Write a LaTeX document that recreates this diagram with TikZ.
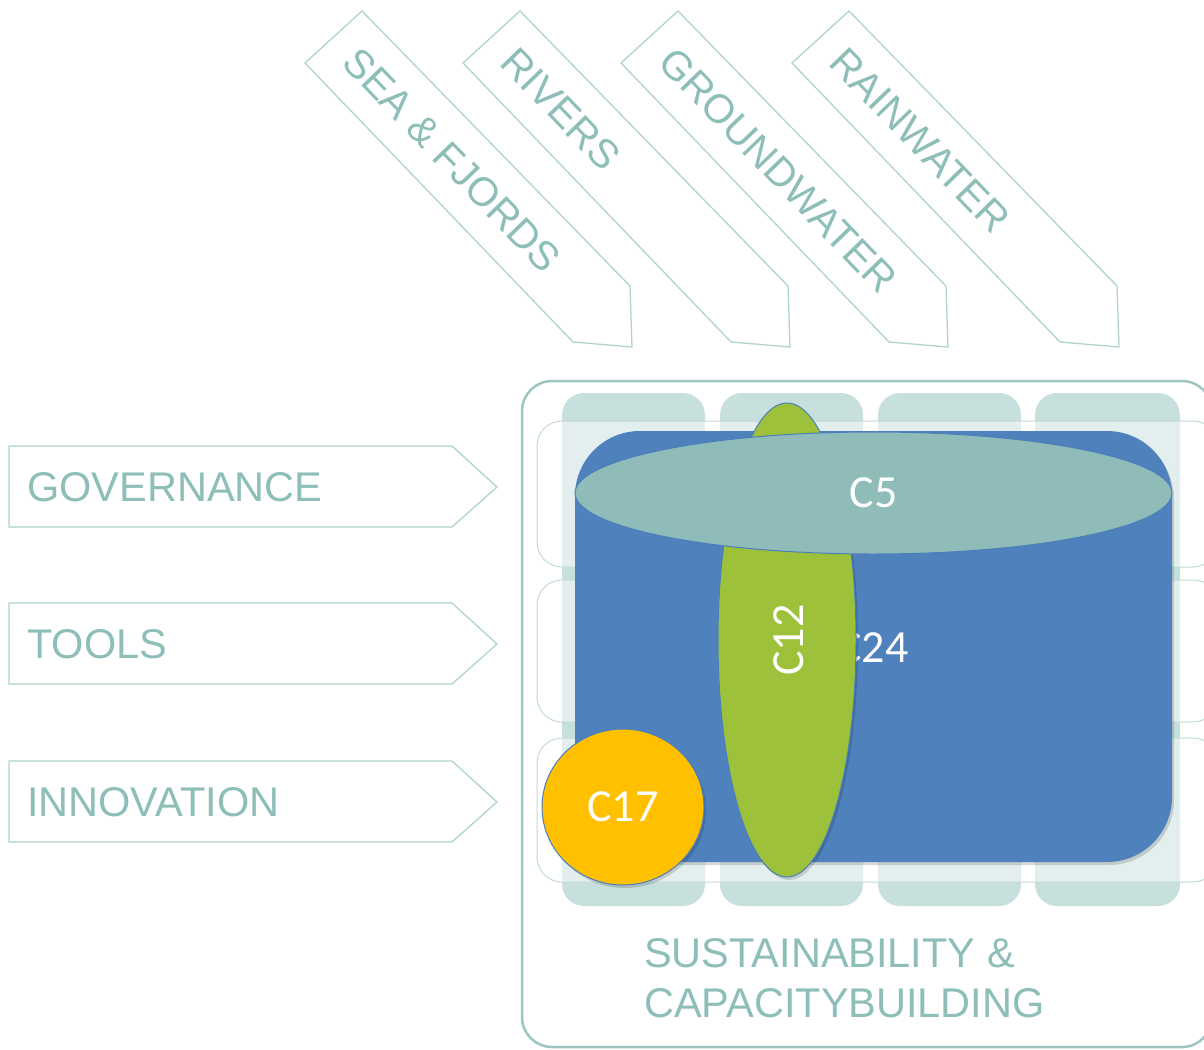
\documentclass[tikz,border=0pt]{standalone}
\usepackage{fontspec}
\setmainfont{Liberation Sans}
\newfontfamily\calib{Carlito}
\usetikzlibrary{shapes.geometric,shadows}
\definecolor{tealtxt}{HTML}{8DBEB8}
\definecolor{tealline}{HTML}{AFD3CF}
\definecolor{boxline}{HTML}{9DC6C1}
\definecolor{colfill}{HTML}{C7E0DE}
\definecolor{rowline}{HTML}{C2DBD8}
\definecolor{cblue}{HTML}{4F81BD}
\definecolor{cgreen}{HTML}{9DC13A}
\definecolor{cteal}{HTML}{8FBCB9}
\definecolor{cgold}{HTML}{FFC000}
\definecolor{edgeblue}{HTML}{4A7EBB}
\tikzset{
  arrowshape/.style={draw=tealline, line width=1.3pt, fill=white},
  arrowtext/.style={text=tealtxt, inner sep=0pt, font=\fontsize{41.5}{50}\selectfont},
  toptext/.style={text=tealtxt, inner sep=0pt, font=\fontsize{40.5}{48}\selectfont},
  colpill/.style={fill=colfill, draw=none, rounded corners=22pt},
  rowbox/.style={fill=white, fill opacity=0.5, draw=rowline, draw opacity=1, line width=1pt, rounded corners=25pt},
  blob/.style={ellipse, inner sep=0pt, draw=edgeblue, line width=1pt, text=white, font=\calib\fontsize{46}{55}\selectfont},
  softshadow/.style={drop shadow={shadow xshift=2pt, shadow yshift=-3pt, opacity=0.15, fill=black}}
}
\begin{document}
\begin{tikzpicture}[x=1pt, y=-1pt]
\useasboundingbox (0,0) rectangle (1204,1049);
\clip (0,0) rectangle (1204,1049);

% top diagonal arrows
\foreach \dx/\txt/\nm in {0/SEA \& FJORDS/sea, 158/RIVERS/riv, 316/GROUNDWATER/gw, 487/RAINWATER/rain}{
  \begin{scope}[shift={(\dx,0)}]
    \draw[arrowshape] (305,63) -- (362,11) -- (630,286) -- (632,347) -- (573,342) -- cycle;
    \node[toptext, anchor=west, rotate=-46] (\nm) at (350.2,54.3) {\txt};
  \end{scope}
}

% left arrows
\foreach \yc/\txt/\nm in {487/GOVERNANCE/gov, 644/TOOLS/tools, 802/INNOVATION/innov}{
  \draw[arrowshape] (9,\yc-41) -- (452,\yc-41) -- (497,\yc) -- (452,\yc+40) -- (9,\yc+40) -- cycle;
  \node[arrowtext, anchor=west] (\nm) at (27,\yc) {\txt};
}

% outer box
\draw[boxline, line width=2.5pt, rounded corners=30pt] (522,381) rectangle (1212,1047);

% columns
\foreach \xa/\xb in {562/705, 720/863, 878/1021, 1035/1180}{
  \fill[colpill] (\xa,393) rectangle (\xb,906);
}
% rows
\foreach \ya/\yb in {421/567, 580/722, 738/882}{
  \draw[rowbox] (537,\ya) rectangle (1218,\yb);
}

% C24 blue box
\node[fill=cblue, rounded corners=65pt, minimum width=597pt, minimum height=431pt, inner sep=0pt, softshadow] (c24box) at (873.5,646.5) {};
\node[text=white, font=\calib\fontsize{46}{55}\selectfont, inner sep=0pt] (c24) at (873,648) {C24};

% C12 green ellipse
\node[blob, fill=cgreen, minimum width=138pt, minimum height=474pt, softshadow] (c12) at (787,640) {};
\node[text=white, font=\calib\fontsize{46}{55}\selectfont, rotate=90, inner sep=0pt] (c12t) at (789,640) {C12};

% C5 teal ellipse
\node[blob, fill=cteal, minimum width=597pt, minimum height=122pt] (c5) at (873.5,493) {C5};

% C17 gold circle
\node[blob, fill=cgold, minimum width=162pt, minimum height=156pt, softshadow] (c17) at (623,807) {C17};

% bottom text
\node[arrowtext, anchor=west] (sust) at (644,953) {SUSTAINABILITY \&};
\node[arrowtext, anchor=west] (cap) at (644,1003) {CAPACITYBUILDING};
\end{tikzpicture}
\end{document}
